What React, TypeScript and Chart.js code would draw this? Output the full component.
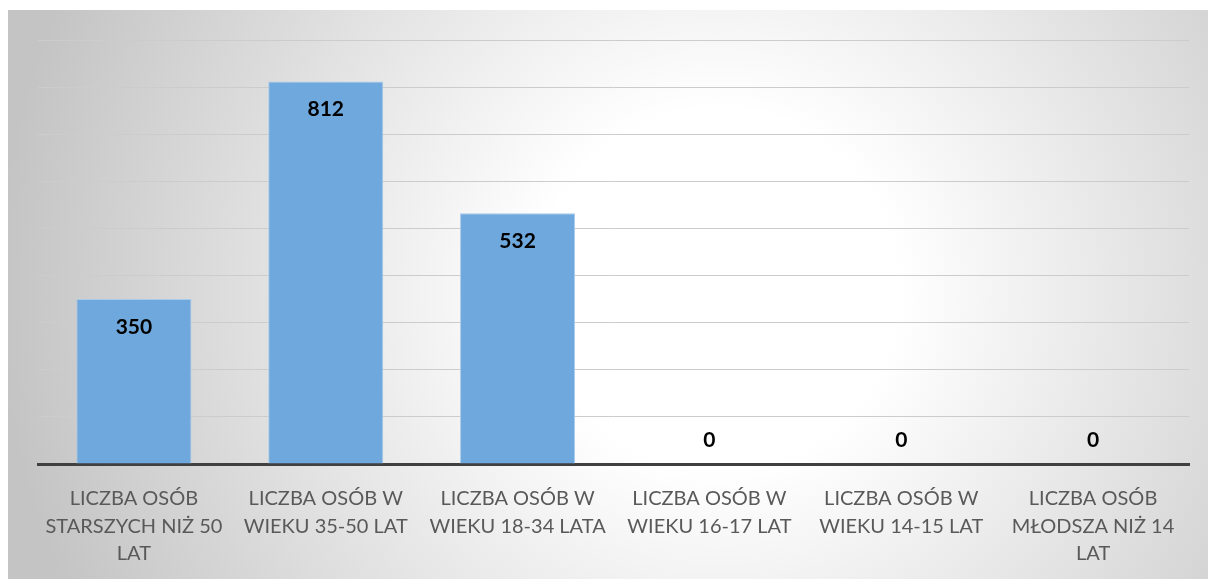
import React, { useEffect, useRef } from "react";
import { Chart, registerables } from "chart.js";

Chart.register(...registerables);

const categories: string[][] = [
  ["LICZBA OSÓB", "STARSZYCH NIŻ 50", "LAT"],
  ["LICZBA OSÓB W", "WIEKU 35-50 LAT"],
  ["LICZBA OSÓB W", "WIEKU 18-34 LATA"],
  ["LICZBA OSÓB W", "WIEKU 16-17 LAT"],
  ["LICZBA OSÓB W", "WIEKU 14-15 LAT"],
  ["LICZBA OSÓB", "MŁODSZA NIŻ 14", "LAT"],
];
const values: number[] = [350, 812, 532, 0, 0, 0];
const yMax = 900;
const yStep = 100;

const bgPlugin = {
  id: "bgGradient",
  beforeDraw(chart: any) {
    const { ctx, width, height } = chart;
    ctx.save();
    const g = ctx.createRadialGradient(710, 280, 0, 710, 280, 720);
    g.addColorStop(0, "#ffffff");
    g.addColorStop(0.25, "#ffffff");
    g.addColorStop(1, "#c4c4c4");
    ctx.fillStyle = g;
    ctx.fillRect(0, 0, width, height);
    ctx.restore();
  },
};

const labelPlugin = {
  id: "barLabels",
  afterDatasetsDraw(chart: any) {
    const { ctx } = chart;
    const meta = chart.getDatasetMeta(0);
    const data = chart.data.datasets[0].data as number[];
    ctx.save();
    ctx.font = "bold 21px Lato";
    ctx.fillStyle = "#000000";
    ctx.textAlign = "center";
    ctx.textBaseline = "middle";
    meta.data.forEach((bar: any, i: number) => {
      const v = data[i];
      const y = v > 0 ? bar.y + 28 : bar.base - 24;
      ctx.fillText(String(v), bar.x, y);
    });
    ctx.restore();
  },
};

export default function App() {
  const ref = useRef<HTMLCanvasElement | null>(null);
  useEffect(() => {
    if (!ref.current) return;
    const chart = new Chart(ref.current, {
      type: "bar",
      data: {
        labels: categories,
        datasets: [
          {
            data: values,
            backgroundColor: "#6fa8dc",
            borderColor: "#a9cbea",
            borderWidth: 1,
            categoryPercentage: 1,
            barPercentage: 0.6,
          },
        ],
      },
      options: {
        animation: false,
        responsive: true,
        maintainAspectRatio: false,
        layout: { padding: { left: 30, right: 19, top: 30, bottom: 0 } },
        plugins: {
          legend: { display: false },
          tooltip: { enabled: false },
        },
        scales: {
          x: {
            grid: { display: false, drawTicks: false },
            border: { display: true, color: "#404040", width: 3 },
            ticks: {
              color: "#595959",
              font: { family: "Lato", size: 20, lineHeight: 1.38 },
              padding: 21,
              maxRotation: 0,
              autoSkip: false,
            },
            afterFit: (s: any) => {
              s.height = 115;
            },
          },
          y: {
            min: 0,
            max: yMax,
            ticks: { display: false, stepSize: yStep },
            grid: { color: "#cccccc", lineWidth: 1, drawTicks: false },
            border: { display: false },
            afterFit: (s: any) => {
              s.width = 0;
            },
          },
        },
      },
      plugins: [bgPlugin, labelPlugin],
    });
    return () => chart.destroy();
  }, []);
  return (
    <div
      style={{
        position: "fixed",
        left: 8,
        top: 10,
        width: 1200,
        height: 569,
      }}
    >
      <canvas ref={ref} />
    </div>
  );
}
